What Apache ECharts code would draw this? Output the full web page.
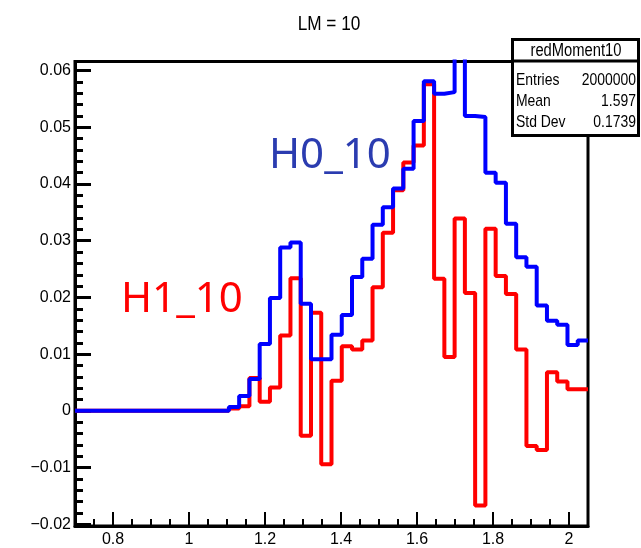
<!DOCTYPE html>
<html>
<head>
<meta charset="utf-8">
<script src="https://cdn.jsdelivr.net/npm/echarts@6/dist/echarts.min.js"></script>
<style>
  html, body { margin: 0; padding: 0; background: #fff; }
  #chart { width: 641px; height: 548px; }
</style>
</head>
<body>
<div id="chart"></div>
<script>
// histogram binning (50 bins, 0.7 .. 2.05)
var binLo = 0.7;
var binHi = 2.05;
var nBins = 50;

// bin contents (bins 0..49)
var h0Values = [
  0, 0, 0, 0, 0, 0, 0, 0, 0, 0,
  0, 0, 0, 0, 0, 0.0007, 0.0026, 0.0056, 0.0118, 0.0199,
  0.0288, 0.0297, 0.0189, 0.0091, 0.0091, 0.0134, 0.0169, 0.0236, 0.0268, 0.0328,
  0.0359, 0.0392, 0.0427, 0.0511, 0.0581, 0.0559, 0.0562, 0.0660, 0.0520, 0.0518,
  0.0420, 0.0402, 0.0330, 0.0271, 0.0254, 0.0186, 0.0159, 0.0152, 0.0116, 0.0124
];
var h1Values = [
  0, 0, 0, 0, 0, 0, 0, 0, 0, 0,
  0, 0, 0, 0, 0, 0.0004, 0.0008, 0.0058, 0.0016, 0.0041,
  0.0133, 0.0234, -0.0044, 0.0173, -0.0094, 0.0053, 0.0114, 0.0108, 0.0124, 0.0218,
  0.0314, 0.0389, 0.0438, 0.0468, 0.0576, 0.0233, 0.0095, 0.0339, 0.0208, -0.0167,
  0.0321, 0.0238, 0.0206, 0.0108, -0.0062, -0.0069, 0.0068, 0.0052, 0.0038, 0.0038
];

var statLabels = ['Entries', 'Mean', 'Std Dev'];
var statValues = ['2000000', '1.597', '0.1739'];

var axisFont = '"Liberation Sans", Arial, sans-serif';

// left bin edges + closing point so the step line reaches the right edge
function histPoints(vals) {
  var w = (binHi - binLo) / nBins;
  var pts = [];
  for (var i = 0; i < vals.length; i++) {
    pts.push([binLo + i * w, vals[i]]);
  }
  pts.push([binHi, vals[vals.length - 1]]);
  return pts;
}

// condensed-looking text (ROOT draws with a narrow helvetica)
function narrowText(x, y, text, size, align) {
  return {
    type: 'text', z: 102, x: x, y: y, scaleX: 0.82,
    style: { text: text, font: size + 'px ' + axisFont, fill: '#000', textAlign: align, textVerticalAlign: 'middle' }
  };
}

var chart = echarts.init(document.getElementById('chart'), null, { renderer: 'canvas' });

var statGraphics = [
  {
    type: 'rect', z: 100,
    shape: { x: 512.5, y: 39.5, width: 126, height: 96 },
    style: { fill: '#fff', stroke: '#000', lineWidth: 3 }
  },
  {
    type: 'line', z: 101,
    shape: { x1: 512.5, y1: 61, x2: 638.5, y2: 61 },
    style: { stroke: '#000', lineWidth: 3 }
  },
  narrowText(576, 51, 'redMoment10', 18, 'center')
];
statLabels.forEach(function (lab, i) {
  var y = 80 + i * 21;
  statGraphics.push(narrowText(516, y, lab, 17, 'left'));
  statGraphics.push(narrowText(636, y, statValues[i], 17, 'right'));
});

var option = {
  animation: false,
  backgroundColor: '#fff',
  grid: {
    left: 75, right: 53, top: 61.5, bottom: 20,
    show: true, borderColor: '#000', borderWidth: 3,
    containLabel: false
  },
  xAxis: {
    type: 'value',
    min: binLo, max: binHi,
    splitNumber: 7,
    splitLine: { show: false },
    axisLine: { show: true, onZero: false, lineStyle: { color: '#000', width: 3 } },
    axisTick: { show: true, inside: true, length: 14, lineStyle: { color: '#000', width: 2 } },
    minorTick: { show: true, splitNumber: 4, length: 7, lineStyle: { color: '#000', width: 2 } },
    axisLabel: {
      color: '#000', fontSize: 16, fontFamily: axisFont, margin: 6,
      showMinLabel: false, showMaxLabel: false
    }
  },
  yAxis: {
    type: 'value',
    min: -0.0203, max: 0.0616,
    splitNumber: 8,
    splitLine: { show: false },
    axisLine: { show: true, onZero: false, lineStyle: { color: '#000', width: 3 } },
    axisTick: { show: true, inside: true, length: 16, lineStyle: { color: '#000', width: 3 } },
    minorTick: { show: true, splitNumber: 5, length: 8, lineStyle: { color: '#000', width: 3 } },
    axisLabel: {
      color: '#000', fontSize: 16, fontFamily: axisFont, margin: 4,
      showMinLabel: false, showMaxLabel: false,
      formatter: function (v) { return String(v).replace('-', '\u2212'); }
    }
  },
  series: [
    {
      name: 'H1_10', type: 'line', step: 'end', symbol: 'none',
      data: histPoints(h1Values),
      lineStyle: { color: '#ff0000', width: 4 },
      z: 3
    },
    {
      name: 'H0_10', type: 'line', step: 'end', symbol: 'none',
      data: histPoints(h0Values),
      lineStyle: { color: '#0000ff', width: 4 },
      z: 4
    }
  ],
  graphic: [
    narrowText(329, 24, 'LM = 10', 21, 'center'),
    {
      type: 'text', x: 269, y: 156, z: 50,
      style: { text: 'H0_10', font: '42px "Noto Sans", sans-serif', fill: '#2b3cb0', textAlign: 'left', textVerticalAlign: 'middle' }
    },
    {
      type: 'text', x: 121, y: 300, z: 50,
      style: { text: 'H1_10', font: '42px "Noto Sans", sans-serif', fill: '#ff0000', textAlign: 'left', textVerticalAlign: 'middle' }
    }
  ].concat(statGraphics)
};

chart.setOption(option);
</script>
</body>
</html>
